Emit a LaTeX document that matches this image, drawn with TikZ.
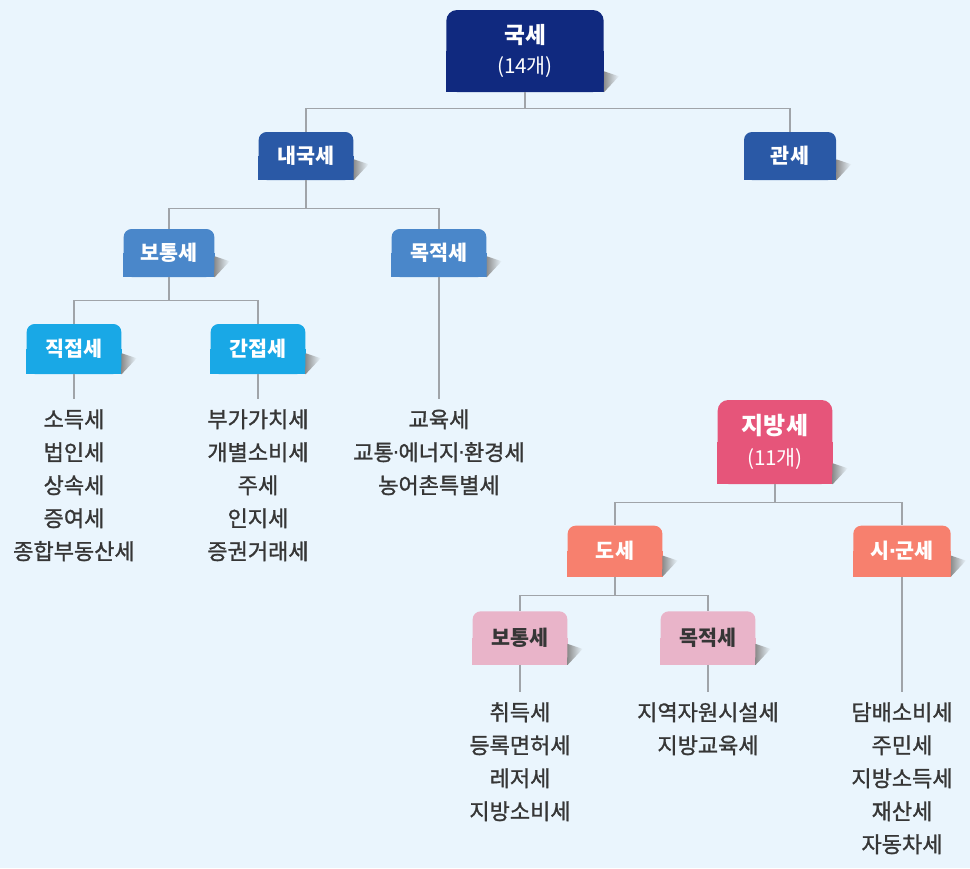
\documentclass[tikz,border=0pt]{standalone}
\usepackage{fontspec}
\setmainfont{Noto Sans CJK KR}
\newfontfamily\listfont[FakeBold=1.2]{Noto Sans CJK KR}
\newfontfamily\dotfont{DejaVu Sans}
\usepackage{tikz}
\pgfdeclarelayer{bg}
\pgfdeclarelayer{deco}
\pgfsetlayers{bg,deco,main}

\definecolor{bgblue}{HTML}{EAF5FD}
\definecolor{navy}{HTML}{10297F}
\definecolor{midblue}{HTML}{2A59A6}
\definecolor{lightblue}{HTML}{4A87CA}
\definecolor{cyanblue}{HTML}{19A8E6}
\definecolor{rosered}{HTML}{E6557A}
\definecolor{salmon}{HTML}{F7806E}
\definecolor{palepink}{HTML}{E9B4C9}
\definecolor{linegray}{HTML}{A0A4A9}
\definecolor{textgray}{HTML}{363636}

% narrow middle dot
\newcommand{\mdot}{{\dotfont\kern-0.05em·\kern-0.05em}}

\begin{document}
\begin{tikzpicture}[x=0.75pt,y=-0.75pt,
				taxbox/.style ={rectangle, rounded corners=6pt, text=white,
					minimum width=71pt, minimum height=36pt, inner sep=0pt,
					font=\bfseries\fontsize{15.5}{18}\selectfont},
				headbox/.style ={taxbox, rounded corners=8pt, align=center,
					font=\bfseries\fontsize{17}{22.5}\selectfont},
				taxlist/.style ={align=center, inner xsep=0pt, inner ysep=7.5pt,
					text=textgray, font=\listfont\fontsize{16.5}{24.75}\selectfont},
				line/.style ={draw=linegray, line width=1.1pt}]
				% background
				\begin{pgfonlayer}{bg}
					\fill[bgblue] (0,0) rectangle (970,868);
				\end{pgfonlayer}
				\useasboundingbox (0,0) rectangle (970,868);
				% national taxes
				\node [headbox, fill=navy, minimum width=118pt, minimum height=61.5pt] (guk) at (525,51)
					{국세\\{\mdseries\fontsize{15.5}{15}\selectfont(14개)}};
				\node [taxbox, fill=midblue] (naeguk) at (306,156) {내국세};
				\node [taxbox, fill=midblue, minimum width=69pt] (gwan) at (790,156) {관세};
				\node [taxbox, fill=lightblue, minimum width=68pt] (botong) at (169,253) {보통세};
				\node [taxbox, fill=lightblue] (mokjeok) at (439,253) {목적세};
				\node [taxbox, fill=cyanblue, minimum height=37.5pt] (jikjeop) at (74,349) {직접세};
				\node [taxbox, fill=cyanblue, minimum height=37.5pt] (ganjeop) at (258,349) {간접세};
				% local taxes
				\node [headbox, fill=rosered, minimum width=86pt, minimum height=63pt,
					font=\bfseries\fontsize{18}{23}\selectfont] (jibang) at (775,442)
					{지방세\\{\mdseries\fontsize{15.5}{15}\selectfont(11개)}};
				\node [taxbox, fill=salmon, minimum height=38pt] (dose) at (615,551) {도세};
				\node [taxbox, fill=salmon, minimum width=73pt, minimum height=38pt] (sigun) at (902,551) {시\mdot 군세};
				\node [taxbox, fill=palepink, text=textgray, minimum height=40pt] (jbotong) at (520,638) {보통세};
				\node [taxbox, fill=palepink, text=textgray, minimum height=40pt] (jmokjeok) at (708,638) {목적세};
				% lists
				\node [taxlist, anchor=north] (jikjeopList) at (74,399)
					{소득세\\법인세\\상속세\\증여세\\종합부동산세};
				\node [taxlist, anchor=north] (ganjeopList) at (258,399)
					{부가가치세\\개별소비세\\주세\\인지세\\증권거래세};
				\node [taxlist, anchor=north] (mokjeokList) at (439,399)
					{교육세\\교통\mdot 에너지\mdot 환경세\\농어촌특별세};
				\node [taxlist, anchor=north] (jbotongList) at (520,692)
					{취득세\\등록면허세\\레저세\\지방소비세};
				\node [taxlist, anchor=north] (jmokjeokList) at (708,692)
					{지역자원시설세\\지방교육세};
				\node [taxlist, anchor=north] (sigunList) at (902,692)
					{담배소비세\\주민세\\지방소득세\\재산세\\자동차세};
				% square bottoms and corner shadows
				\begin{pgfonlayer}{deco}
					\foreach \n/\c in {guk/navy, naeguk/midblue, gwan/midblue, botong/lightblue,
						mokjeok/lightblue, jikjeop/cyanblue, ganjeop/cyanblue, jibang/rosered,
						dose/salmon, sigun/salmon, jbotong/palepink, jmokjeok/palepink} {
						\fill[\c] (\n.west) rectangle (\n.south east);
						\shade[left color=black!45, right color=bgblue]
							(\n.south east) -- ++(0,-21) -- ++(15,5) -- cycle;
					}
				\end{pgfonlayer}
				% connecting nodes with paths
				\begin{scope}[every path/.style=line]
					\path (guk.south) -- ++(0,16) -| (naeguk.north);
					\path (guk.south) -- ++(0,16) -| (gwan.north);
					\path (naeguk.south) -- ++(0,28) -| (botong.north);
					\path (naeguk.south) -- ++(0,28) -| (mokjeok.north);
					\path (botong.south) -- ++(0,23) -| (jikjeop.north);
					\path (botong.south) -- ++(0,23) -| (ganjeop.north);
					\path (jikjeop.south) -- (jikjeopList.north);
					\path (ganjeop.south) -- (ganjeopList.north);
					\path (mokjeok.south) -- (mokjeokList.north);
					\path (jibang.south) -- ++(0,18) -| (dose.north);
					\path (jibang.south) -- ++(0,18) -| (sigun.north);
					\path (dose.south) -- ++(0,19) -| (jbotong.north);
					\path (dose.south) -- ++(0,19) -| (jmokjeok.north);
					\path (jbotong.south) -- (jbotongList.north);
					\path (jmokjeok.south) -- (jmokjeokList.north);
					\path (sigun.south) -- (sigunList.north);
				\end{scope}
			\end{tikzpicture}
\end{document}
